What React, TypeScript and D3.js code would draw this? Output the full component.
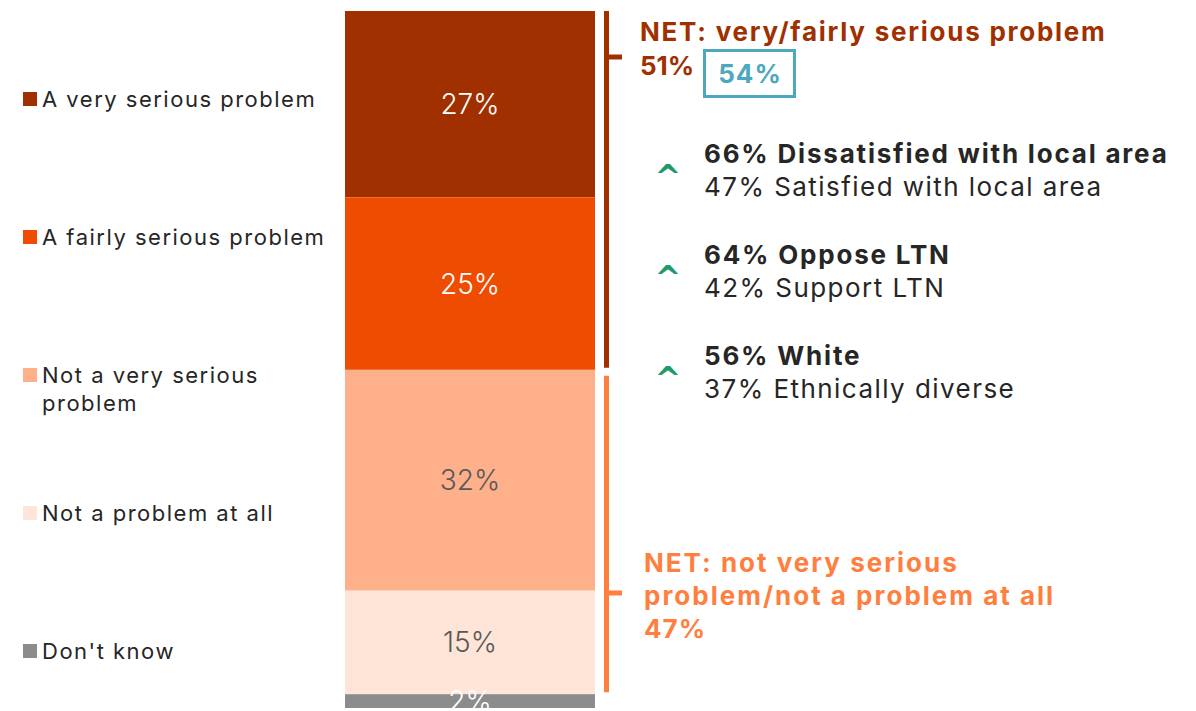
import React from "react";
import * as d3 from "d3";

const categories = [
  "A very serious problem",
  "A fairly serious problem",
  "Not a very serious problem",
  "Not a problem at all",
  "Don't know",
];
const values = [27, 25, 32, 15, 2];
const colors = ["#A03000", "#EE4C00", "#FDB08A", "#FFE4D8", "#8C8C8C"];
const labelColors = ["#FFFFFF", "#FFFFFF", "#595959", "#595959", "#FFFFFF"];
const legendLines = [
  ["A very serious problem"],
  ["A fairly serious problem"],
  ["Not a very serious", "problem"],
  ["Not a problem at all"],
  ["Don't know"],
];

const netSerious = { label: "NET: very/fairly serious problem", value: 51, compare: 54 };
const netNot = { lines: ["NET: not very serious", "problem/not a problem at all"], value: 47 };

const subgroupHigh = ["66% Dissatisfied with local area", "64% Oppose LTN", "56% White"];
const subgroupLow = ["47% Satisfied with local area", "42% Support LTN", "37% Ethnically diverse"];

const FONT = "Inter, 'Open Sans', sans-serif";

export default function App() {
  const W = 1196;
  const H = 711;
  const total = d3.sum(values);
  const y = d3.scaleLinear().domain([0, total]).range([11, 708]);
  const barX = 345;
  const barW = 250;
  const stacked = values.map((v, i) => {
    const start = d3.sum(values.slice(0, i));
    return { v, i, y0: y(start), y1: y(start + v) };
  });
  const seriousEnd = y(values[0] + values[1]);
  const notEnd = y(values[0] + values[1] + values[2] + values[3]);
  const legendY = d3.scaleLinear().domain([0, 1]).range([99, 237]);
  const subBase = d3.scaleLinear().domain([0, 1]).range([163, 264]);

  return (
    <div style={{ position: "absolute", left: 0, top: 0, width: W, height: H, background: "#fff" }}>
      <svg width={W} height={H} style={{ display: "block" }}>
        <defs>
          <clipPath id="plotClip">
            <rect x={0} y={0} width={W} height={708} />
          </clipPath>
        </defs>
        <g clipPath="url(#plotClip)">
          {stacked.map((s) => (
            <g key={s.i}>
              <rect x={barX} y={s.y0} width={barW} height={s.y1 - s.y0} fill={colors[s.i]} />
              <text
                x={barX + barW / 2}
                y={(s.y0 + s.y1) / 2 + 10}
                textAnchor="middle"
                fontFamily={FONT}
                fontWeight={300}
                fontSize={28}
                fill={labelColors[s.i]}
              >
                {s.v}%
              </text>
            </g>
          ))}
        </g>

        {/* legend */}
        {categories.map((c, i) => (
          <g key={c}>
            <rect x={23} y={legendY(i) - 7} width={14} height={14} fill={colors[i]} />
            {legendLines[i].map((ln, j) => (
              <text
                key={j}
                x={42}
                y={legendY(i) + 8 + j * 28}
                fontFamily={FONT}
                fontSize={22}
                letterSpacing={1.5}
                fill="#262626"
              >
                {ln}
              </text>
            ))}
          </g>
        ))}

        {/* brackets */}
        <line x1={606.5} x2={606.5} y1={y(0)} y2={seriousEnd - 2} stroke="#A03000" strokeWidth={5} />
        <line x1={606} x2={622} y1={57} y2={57} stroke="#A03000" strokeWidth={5} />
        <line x1={606.5} x2={606.5} y1={seriousEnd + 6} y2={notEnd - 2} stroke="#FF7F3F" strokeWidth={5} />
        <line x1={606} x2={622} y1={593} y2={593} stroke="#FF7F3F" strokeWidth={5} />

        {/* NET serious */}
        <text x={640} y={41} fontFamily={FONT} fontWeight={700} fontSize={26} letterSpacing={1.75} fill="#A03000">
          {netSerious.label}
        </text>
        <text x={640} y={75} fontFamily={FONT} fontWeight={700} fontSize={26} fill="#A03000">
          {netSerious.value}%
        </text>
        <rect x={704.5} y={50.5} width={90} height={46} fill="none" stroke="#4BA8BF" strokeWidth={3} />
        <text x={750} y={83} textAnchor="middle" fontFamily={FONT} fontWeight={700} fontSize={26} letterSpacing={1} fill="#4BA8BF">
          {netSerious.compare}%
        </text>

        {/* subgroups */}
        {subgroupHigh.map((t, i) => {
          const base = subBase(i);
          return (
            <g key={t}>
              <text x={668} y={base + 25} textAnchor="middle" fontFamily="'DejaVu Sans', sans-serif" fontWeight={700} fontSize={32} fill="#1E9A6B">
                ^
              </text>
              <text x={704} y={base} fontFamily={FONT} fontWeight={700} fontSize={26} letterSpacing={1.8} fill="#262626">
                {t}
              </text>
              <text x={704} y={base + 33} fontFamily={FONT} fontWeight={400} fontSize={26} letterSpacing={1.45} fill="#262626">
                {subgroupLow[i]}
              </text>
            </g>
          );
        })}

        {/* NET not serious */}
        {netNot.lines.map((ln, j) => (
          <text key={j} x={644} y={572 + j * 33} fontFamily={FONT} fontWeight={700} fontSize={26} letterSpacing={2} fill="#FF7F3F">
            {ln}
          </text>
        ))}
        <text x={644} y={638} fontFamily={FONT} fontWeight={700} fontSize={26} letterSpacing={1} fill="#FF7F3F">
          {netNot.value}%
        </text>
      </svg>
    </div>
  );
}
